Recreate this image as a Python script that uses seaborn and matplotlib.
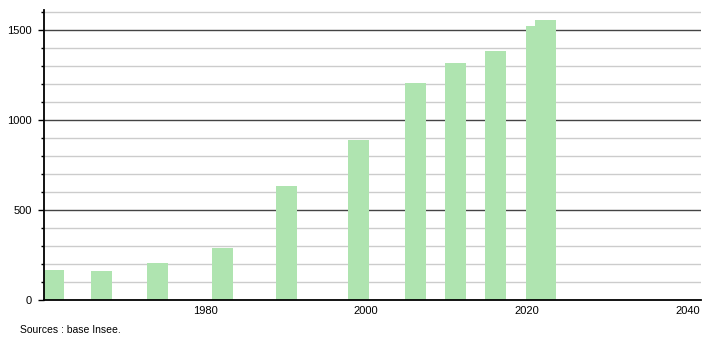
import matplotlib
matplotlib.use("Agg")
import matplotlib.pyplot as plt
import seaborn as sns
import pandas as pd
import numpy as np
from matplotlib.ticker import MultipleLocator

# Data (bar centre positions in years, population values)
years = [1961.2, 1967.1, 1974.1, 1982.2, 1990.1, 1999.1, 2006.1, 2011.1, 2016.1, 2021.2, 2022.3]
population = [166, 161, 203, 287, 632, 887, 1202, 1313, 1381, 1520, 1553]
x_ticks = [1980, 2000, 2020, 2040]
y_major = [0, 500, 1000, 1500]
source_text = "Sources : base Insee."

df = pd.DataFrame({"year": years, "population": population})

sns.set_theme(style="white")
plt.rcParams['font.family'] = ['Liberation Sans', 'DejaVu Sans']

fig = plt.figure(figsize=(7.1, 3.4), dpi=100)
ax = fig.add_axes([44/710, 40/340, (701-44)/710, 290/340])

# gridlines
for v in range(100, 1700, 100):
    if v % 500 == 0:
        ax.axhline(v, color="#444444", lw=1.0, zorder=1)
    else:
        ax.axhline(v, color="#cccccc", lw=1.0, zorder=1)

bar_color = "#afe4b0"
ax.bar(df["year"], df["population"], width=2.6, color=bar_color, zorder=2, linewidth=0)

ax.set_xlim(1960, 2041.6)
ax.set_ylim(0, 1610)
ax.set_xticks(x_ticks)
ax.set_xticklabels([str(t) for t in x_ticks])
ax.set_yticks(y_major)
ax.yaxis.set_minor_locator(MultipleLocator(100))

for s in ["top", "right"]:
    ax.spines[s].set_visible(False)
for s in ["left", "bottom"]:
    ax.spines[s].set_visible(True)
    ax.spines[s].set_color("black")
    ax.spines[s].set_linewidth(1.3)
    ax.spines[s].set_zorder(3)

ax.tick_params(axis="y", which="major", left=True, length=4, width=1, color="black",
               labelsize=8, pad=5, labelcolor="black")
ax.tick_params(axis="y", which="minor", left=True, length=2, width=1, color="black")
ax.tick_params(axis="x", which="both", bottom=False, length=0, labelsize=8, pad=4,
               labelcolor="black")
ax.set_xlabel("")
ax.set_ylabel("")
ax.grid(False)

fig.text(20/710, 1 - 330/340, source_text, fontsize=7.5, ha="left", va="center", color="black")

fig.savefig("out.png", dpi=100)
